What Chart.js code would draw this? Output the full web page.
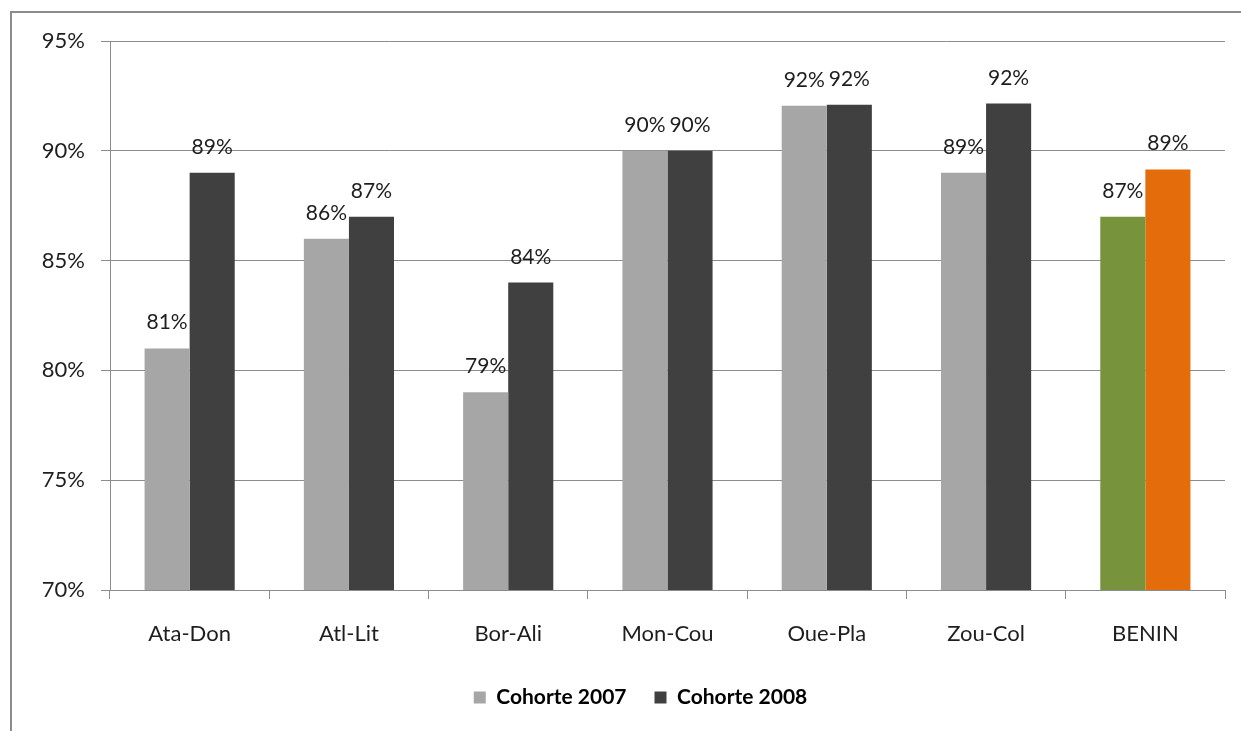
<!DOCTYPE html>
<html>
<head>
<meta charset="utf-8">
<script src="https://cdn.jsdelivr.net/npm/chart.js@4.4.1/dist/chart.umd.min.js"></script>
<style>
  html, body { margin: 0; padding: 0; background: #fff; }
  #frame {
    position: absolute; left: 10px; top: 11px; width: 1400px; height: 900px;
    border-left: 2px solid #8c8c8c; border-top: 2px solid #8c8c8c; box-sizing: border-box;
  }
  #wrap { position: absolute; left: 0; top: 0; width: 1241px; height: 731px; }
</style>
</head>
<body>
<div id="frame"></div>
<div id="wrap"><canvas id="chart" width="1241" height="731"></canvas></div>
<script>
// Regions and national total
const categories = ['Ata-Don', 'Atl-Lit', 'Bor-Ali', 'Mon-Cou', 'Oue-Pla', 'Zou-Col', 'BENIN'];
// Share (%) per cohort
const cohort2007 = [81, 86, 79, 90, 92.05, 89, 87];
const cohort2008 = [89, 87, 84, 90, 92.1, 92.15, 89.15];
const seriesNames = ['Cohorte 2007', 'Cohorte 2008'];
const yTicks = [70, 75, 80, 85, 90, 95];

const FONT = 'Lato, "Open Sans", sans-serif';
const GRID = '#8c8c8c';
const TEXT = '#1e1e1e';
const gray07 = categories.map(c => c === 'BENIN' ? '#77933c' : '#a6a6a6');
const gray08 = categories.map(c => c === 'BENIN' ? '#e46c0a' : '#404040');

// Writes each bar's value just above its top
const valueLabels = {
  id: 'valueLabels',
  afterDatasetsDraw(chart) {
    const ctx = chart.ctx;
    ctx.save();
    ctx.font = '21px ' + FONT;
    ctx.fillStyle = TEXT;
    ctx.textAlign = 'center';
    ctx.textBaseline = 'alphabetic';
    chart.data.datasets.forEach((ds, i) => {
      chart.getDatasetMeta(i).data.forEach((bar, j) => {
        ctx.fillText(Math.round(ds.data[j]) + '%', bar.x, bar.y - 19);
      });
    });
    ctx.restore();
  }
};

// Nudges the legend row a little to the right of the chart centre
const legendShift = {
  id: 'legendShift',
  afterLayout(chart) {
    if (chart.legend) { chart.legend.left += 28; chart.legend.right += 28; }
  }
};

new Chart(document.getElementById('chart'), {
  type: 'bar',
  data: {
    labels: categories,
    datasets: [
      { label: seriesNames[0], data: cohort2007, backgroundColor: gray07 },
      { label: seriesNames[1], data: cohort2008, backgroundColor: gray08 }
    ]
  },
  options: {
    responsive: false,
    animation: false,
    layout: { padding: { left: 0, right: 16, top: 41, bottom: 13 } },
    datasets: { bar: { categoryPercentage: 0.566, barPercentage: 1.0 } },
    plugins: {
      legend: {
        position: 'bottom',
        labels: {
          generateLabels: () => seriesNames.map((n, i) => ({
            text: n, fillStyle: i === 0 ? '#a6a6a6' : '#404040',
            strokeStyle: 'rgba(0,0,0,0)', lineWidth: 0, datasetIndex: i
          })),
          boxWidth: 12, boxHeight: 12, padding: 28,
          font: { family: FONT, size: 21, weight: 'bold' }, color: TEXT
        }
      },
      tooltip: { enabled: false }
    },
    scales: {
      x: {
        grid: { drawOnChartArea: false, drawTicks: true, tickLength: 9, offset: true, color: GRID },
        border: { color: GRID, width: 1 },
        ticks: { font: { family: FONT, size: 22 }, color: TEXT, padding: 22 },
        afterFit: s => { s.height = 69; }
      },
      y: {
        min: 70, max: 95,
        afterBuildTicks: s => { s.ticks = yTicks.map(v => ({ value: v })); },
        grid: { color: GRID, tickLength: 9 },
        border: { color: GRID, width: 1 },
        ticks: { font: { family: FONT, size: 22 }, color: TEXT, padding: 16, callback: v => v + '%' },
        afterFit: s => { s.width = 110; }
      }
    }
  },
  plugins: [valueLabels, legendShift]
});
</script>
</body>
</html>
